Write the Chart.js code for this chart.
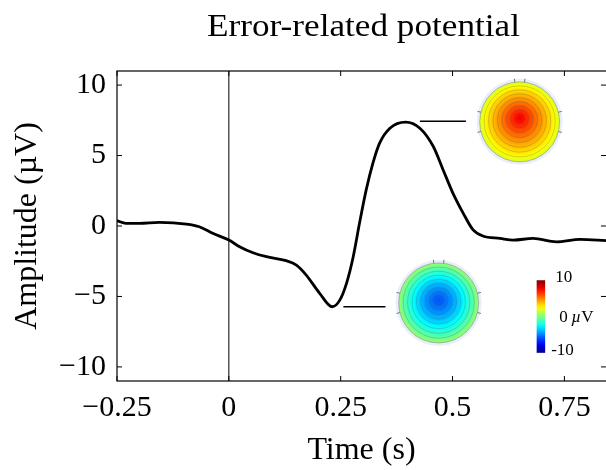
<!DOCTYPE html>
<html>
<head>
<meta charset="utf-8">
<script src="https://cdn.jsdelivr.net/npm/chart.js@4/dist/chart.umd.min.js"></script>
<style>
  html, body { margin: 0; padding: 0; background: #fff; }
  #wrap { width: 606px; height: 470px; }
</style>
</head>
<body>
<div id="wrap"><canvas id="erpChart" width="606" height="470"></canvas></div>
<script>
// Dữ liệu đường ERP (thời gian, biên độ)
const times = [-0.25, -0.23, -0.2, -0.155, -0.095, -0.066, -0.036, 0, 0.024, 0.054, 0.084, 0.128, 0.151, 0.173,
  0.203, 0.231, 0.248, 0.263, 0.278, 0.292, 0.307, 0.322, 0.337, 0.36, 0.395, 0.427, 0.457, 0.479, 0.501,
  0.524, 0.546, 0.568, 0.606, 0.636, 0.68, 0.732, 0.785, 0.843];
const amps = [0.38, 0.19, 0.19, 0.26, 0.14, -0.05, -0.52, -1.0, -1.47, -1.9, -2.18, -2.46, -2.77, -3.48,
  -4.78, -5.73, -5.26, -4.07, -2.18, 0.19, 2.56, 4.46, 5.88, 6.94, 7.37, 6.94, 5.64, 3.98, 2.32,
  0.9, -0.28, -0.71, -0.88, -1.0, -0.88, -1.12, -0.95, -1.04];

const xTicks = [-0.25, 0, 0.25, 0.5, 0.75];
const yTicks = [-10, -5, 0, 5, 10];

// Topoplot: khoảng giá trị (µV) ở mép và ở tâm
const peakTopo = { edge: 1.8, center: 7.8, shape: 1.0 };
const troughTopo = { edge: 0.4, center: -5.8, shape: 1.4 };
const cbarRange = [-10, 10];

const serif = '"Liberation Serif", "DejaVu Serif", serif';

// Bảng màu jet
function jet(v) {
  let x = (v - cbarRange[0]) / (cbarRange[1] - cbarRange[0]);
  x = Math.max(0, Math.min(1, x));
  const c = t => Math.round(255 * Math.max(0, Math.min(1, t)));
  return 'rgb(' + c(1.5 - Math.abs(4 * x - 3)) + ',' + c(1.5 - Math.abs(4 * x - 2)) + ',' + c(1.5 - Math.abs(4 * x - 1)) + ')';
}

function drawTopo(ctx, cx, cy, R, topo, shiftY) {
  ctx.save();
  // viền sáng quanh đầu
  ctx.beginPath();
  ctx.arc(cx, cy, R + 3, 0, Math.PI * 2);
  ctx.fillStyle = '#e8eefa';
  ctx.fill();
  ctx.beginPath();
  ctx.arc(cx, cy, R, 0, Math.PI * 2);
  ctx.clip();
  const N = 80;
  for (let i = 0; i <= N; i++) {
    const rho = 1 - i / N;
    const v = topo.center + (topo.edge - topo.center) * Math.pow(rho, topo.shape);
    ctx.beginPath();
    ctx.arc(cx, cy + shiftY * (1 - rho), Math.max(rho * R, 0.5), 0, Math.PI * 2);
    ctx.fillStyle = jet(v);
    ctx.fill();
  }
  // đường đồng mức
  ctx.strokeStyle = 'rgba(70,70,70,0.4)';
  ctx.lineWidth = 0.6;
  for (let k = 1; k <= 8; k++) {
    const rho = k / 9;
    ctx.beginPath();
    ctx.arc(cx, cy + shiftY * (1 - rho), rho * R, 0, Math.PI * 2);
    ctx.stroke();
  }
  ctx.restore();
  ctx.save();
  ctx.beginPath();
  ctx.arc(cx, cy, R, 0, Math.PI * 2);
  ctx.strokeStyle = 'rgba(90,90,90,0.5)';
  ctx.lineWidth = 0.8;
  ctx.stroke();
  // mũi và tai
  ctx.strokeStyle = '#555';
  ctx.lineWidth = 0.8;
  [-97, -83, 166, 194, 14, -14].forEach(function (a) {
    const r = a * Math.PI / 180;
    ctx.beginPath();
    ctx.moveTo(cx + Math.cos(r) * R, cy + Math.sin(r) * R);
    ctx.lineTo(cx + Math.cos(r) * (R + 3.5), cy + Math.sin(r) * (R + 3.5));
    ctx.stroke();
  });
  ctx.restore();
}

const decor = {
  id: 'decor',
  afterDatasetsDraw(chart) {
    const ctx = chart.ctx, a = chart.chartArea;
    const xs = chart.scales.x, ys = chart.scales.y;
    ctx.save();
    // khung
    ctx.strokeStyle = '#000';
    ctx.lineWidth = 1.2;
    ctx.strokeRect(a.left, a.top, a.right - a.left + 2, a.bottom - a.top);
    // vạch chia hướng vào trong
    const tl = 5;
    ctx.lineWidth = 1;
    xTicks.forEach(function (t) {
      const px = xs.getPixelForValue(t);
      ctx.beginPath();
      ctx.moveTo(px, a.bottom); ctx.lineTo(px, a.bottom - tl);
      ctx.moveTo(px, a.top); ctx.lineTo(px, a.top + tl);
      ctx.stroke();
    });
    yTicks.forEach(function (v) {
      const py = ys.getPixelForValue(v);
      ctx.beginPath();
      ctx.moveTo(a.left, py); ctx.lineTo(a.left + tl, py);
      ctx.moveTo(a.right, py); ctx.lineTo(a.right - tl, py);
      ctx.stroke();
    });
    // topoplot
    drawTopo(ctx, xs.getPixelForValue(0.65), ys.getPixelForValue(7.39), 40, peakTopo, -4);
    drawTopo(ctx, xs.getPixelForValue(0.469), ys.getPixelForValue(-5.46), 40, troughTopo, -3);
    // thanh màu
    const bx0 = xs.getPixelForValue(0.688), bx1 = xs.getPixelForValue(0.707);
    const by0 = ys.getPixelForValue(-3.85), by1 = ys.getPixelForValue(-9.0);
    const g = ctx.createLinearGradient(0, by1, 0, by0);
    for (let i = 0; i <= 20; i++) {
      const v = cbarRange[0] + (cbarRange[1] - cbarRange[0]) * i / 20;
      g.addColorStop(i / 20, jet(v));
    }
    g.addColorStop(0, 'rgb(0,0,140)');
    g.addColorStop(1, 'rgb(130,0,0)');
    ctx.fillStyle = g;
    ctx.fillRect(bx0, by0, bx1 - bx0, by1 - by0);
    ctx.fillStyle = '#000';
    ctx.font = '17px ' + serif;
    ctx.textBaseline = 'middle';
    ctx.textAlign = 'left';
    ctx.fillText('10', bx1 + 10, by0 - 3);
    const my = (by0 + by1) / 2 + 1;
    ctx.fillText('0', bx1 + 14, my);
    ctx.font = 'italic 17px ' + serif;
    ctx.fillText('µ', bx1 + 26, my);
    ctx.font = '17px ' + serif;
    ctx.fillText('V', bx1 + 36, my);
    ctx.fillText('-10', bx1 + 6, by1 - 2);
    // tiêu đề (kéo giãn ngang cho giống phông Computer Modern)
    ctx.font = '32px ' + serif;
    ctx.textAlign = 'center';
    ctx.textBaseline = 'alphabetic';
    ctx.translate((a.left + a.right) / 2 + 2, 36);
    ctx.scale(1.1, 1);
    ctx.fillText('Error-related potential', 0, 0);
    ctx.restore();
  }
};

const ctx = document.getElementById('erpChart').getContext('2d');
window.chartInstance = new Chart(ctx, {
  type: 'line',
  data: {
    datasets: [
      {
        label: 'ERP',
        data: times.map(function (t, i) { return { x: t, y: amps[i] }; }),
        borderColor: '#000',
        borderWidth: 2.8,
        pointRadius: 0,
        cubicInterpolationMode: 'monotone',
        fill: false
      },
      {
        label: 'onset',
        data: [{ x: 0, y: -11 }, { x: 0, y: 11 }],
        borderColor: '#000',
        borderWidth: 1,
        pointRadius: 0
      },
      {
        label: 'peak link',
        data: [{ x: 0.427, y: 7.44 }, { x: 0.53, y: 7.44 }],
        borderColor: '#000',
        borderWidth: 1.5,
        pointRadius: 0
      },
      {
        label: 'trough link',
        data: [{ x: 0.256, y: -5.73 }, { x: 0.35, y: -5.73 }],
        borderColor: '#000',
        borderWidth: 1.5,
        pointRadius: 0
      }
    ]
  },
  options: {
    responsive: false,
    animation: false,
    layout: { padding: { top: 71, right: 0, bottom: 0, left: 0 } },
    plugins: { legend: { display: false }, tooltip: { enabled: false }, title: { display: false } },
    scales: {
      x: {
        type: 'linear',
        min: -0.25,
        max: 0.843,
        afterBuildTicks: function (s) { s.ticks = xTicks.map(function (v) { return { value: v }; }); },
        afterFit: function (s) { s.height = 89; },
        grid: { display: false, drawTicks: false },
        border: { display: false },
        ticks: {
          color: '#000',
          padding: 9,
          font: { family: serif, size: 30 },
          callback: function (v) { return v < 0 ? '\u2212' + Math.abs(v) : String(v); }
        },
        title: {
          display: true,
          text: 'Time (s)',
          color: '#000',
          font: { family: serif, size: 32 },
          padding: { top: 2, bottom: 0 }
        }
      },
      y: {
        min: -11,
        max: 11,
        afterBuildTicks: function (s) { s.ticks = yTicks.map(function (v) { return { value: v }; }); },
        afterFit: function (s) { s.width = 117; },
        grid: { display: false, drawTicks: false },
        border: { display: false },
        ticks: {
          color: '#000',
          padding: 11,
          font: { family: serif, size: 30 },
          callback: function (v) { return v < 0 ? '\u2212' + Math.abs(v) : String(v); }
        },
        title: {
          display: true,
          text: 'Amplitude (µV)',
          color: '#000',
          font: { family: serif, size: 32 },
          padding: { top: 8, bottom: 0 }
        }
      }
    }
  },
  plugins: [decor]
});
</script>
</body>
</html>
